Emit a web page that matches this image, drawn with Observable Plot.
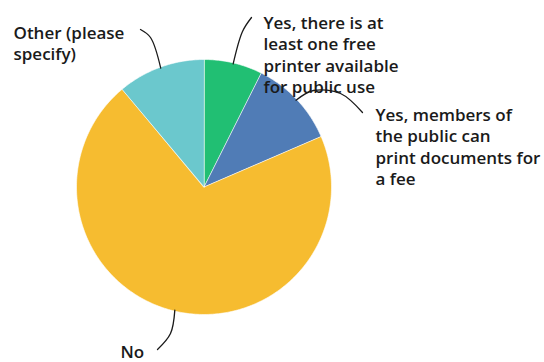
<!DOCTYPE html>
<html><head><meta charset="utf-8">
<script src="https://cdn.jsdelivr.net/npm/d3@7"></script>
<script src="https://cdn.jsdelivr.net/npm/@observablehq/plot@0.6"></script>
<style>body{margin:0;background:#fff}#chart svg{display:block}</style>
</head><body><div id="chart"></div>
<script>
// Data
const categories = [
  "Yes, there is at least one free printer available for public use",
  "Yes, members of the public can print documents for a fee",
  "No",
  "Other (please specify)"
];
const labels = [
  "Yes, there is at\nleast one free\nprinter available\nfor public use",
  "Yes, members of\nthe public can\nprint documents for\na fee",
  "No",
  "Other (please\nspecify)"
];
const counts = [2, 3, 19, 3];
const colors = ["#21BF73", "#507CB6", "#F6BC30", "#6BC8CD"];

// Layout
const W = 544, H = 362;
const cx = 203.5, cy = 186.5, R = 127.5;
const labelPos = [[263, 13], [375, 105], [120, 342], [13, 23]];
const labelEnd = [[251, 17], [362, 112], [157, 349], [140, 29]];
const bend = [[242, 31], [313, 90, 340, 93], [170, 333], [150, 37]];

const arcs = d3.pie().sort(null)(counts);
const pt = (a, r) => [cx + r * Math.sin(a), cy - r * Math.cos(a)];

const slicePts = [];
arcs.forEach((d, i) => {
  slicePts.push({x: cx, y: cy, k: i});
  const n = Math.max(2, Math.ceil((d.endAngle - d.startAngle) * 60));
  for (let j = 0; j <= n; j++) {
    const a = d.startAngle + (d.endAngle - d.startAngle) * j / n;
    const [x, y] = pt(a, R);
    slicePts.push({x, y, k: i});
  }
});

const connPts = [];
arcs.forEach((d, i) => {
  const mid = (d.startAngle + d.endAngle) / 2;
  const [ex, ey] = pt(mid, R - 1);
  connPts.push({x: ex, y: ey, k: i});
  const b = bend[i];
  for (let j = 0; j < b.length; j += 2) connPts.push({x: b[j], y: b[j + 1], k: i});
  connPts.push({x: labelEnd[i][0], y: labelEnd[i][1], k: i});
});

const labelData = labels.map((t, i) => ({x: labelPos[i][0], y: labelPos[i][1], t}));

const chart = Plot.plot({
  width: W, height: H,
  margin: 0,
  x: {domain: [0, W], range: [0, W], axis: null},
  y: {domain: [0, H], range: [0, H], axis: null},
  style: {background: "#fff"},
  marks: [
    Plot.line(slicePts, {x: "x", y: "y", z: "k", fill: d => colors[d.k], stroke: "#fff", strokeWidth: 0.6, curve: "linear-closed"}),
    Plot.line(connPts, {x: "x", y: "y", z: "k", stroke: "#1a1a1a", strokeWidth: 1.3, curve: "catmull-rom"}),
    Plot.text(labelData, {x: "x", y: "y", text: "t", textAnchor: "start", lineAnchor: "top", lineHeight: 1.26, fontSize: 17, fontWeight: 600, fill: "#1a1a1a", fontFamily: "'Open Sans', sans-serif"})
  ]
});
document.getElementById("chart").append(chart);
</script>
</body></html>
